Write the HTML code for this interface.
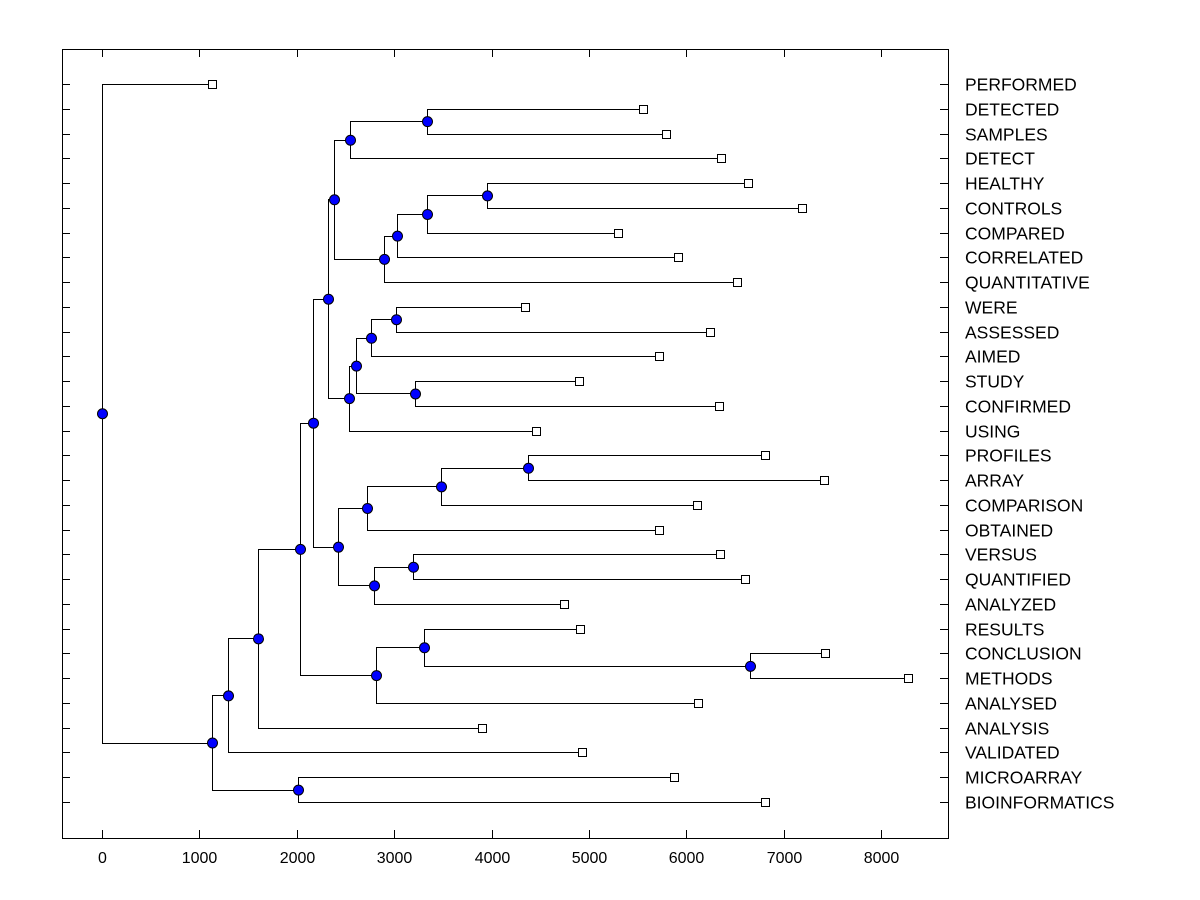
<!DOCTYPE html>
<html><head><meta charset="utf-8"><style>body{margin:0;background:#fff}svg{display:block}text{font-family:"Liberation Sans",Arial,sans-serif;font-size:16px;fill:#000}text.leaf{font-size:17.5px}</style></head>
<body>
<svg id="chart" width="1200" height="900" xmlns="http://www.w3.org/2000/svg"></svg>
<script>
const leafNames = ["PERFORMED","DETECTED","SAMPLES","DETECT","HEALTHY","CONTROLS","COMPARED","CORRELATED","QUANTITATIVE","WERE","ASSESSED","AIMED","STUDY","CONFIRMED","USING","PROFILES","ARRAY","COMPARISON","OBTAINED","VERSUS","QUANTIFIED","ANALYZED","RESULTS","CONCLUSION","METHODS","ANALYSED","ANALYSIS","VALIDATED","MICROARRAY","BIOINFORMATICS"];
const leafValues = [1130,5555,5790,6355,6630,7187,5298,5914,6520,4343,6242,5719,4897,6335,4456,6807,7413,6109,5719,6345,6602,4743,4908,7423,8275,6119,3901,4928,5873,6807];
const nodeChildren = [
["L1","L2"],["N0","L3"],["L4","L5"],["N2","L6"],["N3","L7"],["N4","L8"],["N1","N5"],
["L9","L10"],["N7","L11"],["L12","L13"],["N8","N9"],["N10","L14"],["N6","N11"],
["L15","L16"],["N13","L17"],["N14","L18"],["L19","L20"],["N16","L21"],["N15","N17"],["N12","N18"],
["L23","L24"],["L22","N20"],["N21","L25"],["N19","N22"],["N23","L26"],["N24","L27"],["L28","L29"],["N25","N26"],["L0","N27"]];
const nodeHeights = [3337,2546,3953,3337,3029,2895,2382,3018,2762,3214,2608,2536,2320,4374,3480,2721,3193,2793,2423,2166,6653,3306,2813,2033,1602,1294,2012,1130,0];
const xTicks = [0,1000,2000,3000,4000,5000,6000,7000,8000];

const svg = document.getElementById('chart');
const NS = "http://www.w3.org/2000/svg";
const L=62,R=948,T=49,B=838;
const xs = v => 102 + v*0.0974;
const ys = i => 84 + i*(802-84)/29;
function mk(tag, attrs){const e=document.createElementNS(NS,tag);for(const k in attrs)e.setAttribute(k,attrs[k]);svg.appendChild(e);return e;}

const box = mk('rect',{x:L+0.5,y:T+0.5,width:R-L,height:B-T,fill:'none',stroke:'#000'});



xTicks.forEach(t=>{
  const x=Math.round(xs(t))+0.5;
  const a=mk('line',{x1:x,y1:B,x2:x,y2:B-8,stroke:'#000'});
  
  
  const b=mk('line',{x1:x,y1:T,x2:x,y2:T+8,stroke:'#000'});
  
  
  const tx=mk('text',{x:x,y:863,'text-anchor':'middle'});tx.textContent=t;
  
  
});

leafNames.forEach((n,i)=>{
  const y=Math.round(ys(i))+0.5;
  const a=mk('line',{x1:L,y1:y,x2:L+8,y2:y,stroke:'#000'});
  
  
  const b=mk('line',{x1:R-8,y1:y,x2:R,y2:y,stroke:'#000'});
  
  
  const tx=mk('text',{x:965,y:y+6,'class':'leaf'});tx.textContent=n;
  
  
});

const nodeY=[];
function pos(ref){const k=+ref.slice(1);return ref[0]==='L'?{x:xs(leafValues[k]),y:ys(k)}:{x:xs(nodeHeights[k]),y:nodeY[k]};}
nodeChildren.forEach((c,k)=>{nodeY[k]=(pos(c[0]).y+pos(c[1]).y)/2;});
const dots=[];
nodeChildren.forEach((c,k)=>{
  const px=Math.round(xs(nodeHeights[k]))+0.5;
  const a=pos(c[0]),b=pos(c[1]);
  const ay=Math.round(a.y)+0.5,by=Math.round(b.y)+0.5;
  const p=mk('path',{d:`M${a.x},${ay}H${px}V${by}H${b.x}`,fill:'none',stroke:'#000'});
  
  
  dots.push([px,nodeY[k]]);
});
leafNames.forEach((n,i)=>{
  const r=mk('rect',{x:Math.round(xs(leafValues[i]))-3.5,y:Math.round(ys(i))-3.5,width:8,height:8,fill:'#fff',stroke:'#000'});
  
  
});
dots.forEach(d=>{
  const c=mk('circle',{cx:d[0],cy:d[1]+0.5,r:5,fill:'#0000ff',stroke:'#000'});
  
  
});
</script>
</body></html>
